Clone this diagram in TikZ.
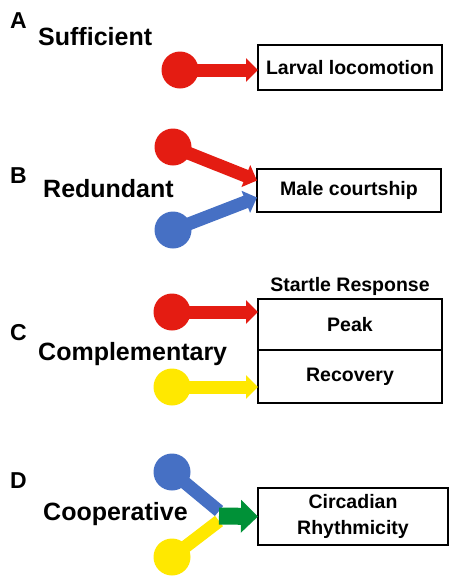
\documentclass[tikz,border=0pt]{standalone}
\usepackage{fontspec}
\setmainfont{Liberation Sans}
\usepackage{xcolor}
\usetikzlibrary{arrows.meta, positioning, calc}

\definecolor{gred}{RGB}{228,28,18}
\definecolor{gblue}{RGB}{70,112,196}
\definecolor{gyellow}{RGB}{255,232,0}
\definecolor{ggreen}{RGB}{0,145,55}

\begin{document}
\begin{tikzpicture}[x=1pt, y=-1pt,
    gene/.style={circle, fill=#1, minimum size=37pt, inner sep=0pt},
    link/.style={draw=#1, line width=13pt, -{Triangle[length=12pt, width=23pt]}},
    outbox/.style={rectangle, draw, line width=2pt, outer sep=0pt, minimum width=184pt, align=center, font=\fontsize{19.5}{26}\selectfont\bfseries},
    kind/.style={anchor=base west, inner sep=0pt, font=\fontsize{25}{30}\selectfont\bfseries},
    panel/.style={anchor=base west, inner sep=0pt, font=\fontsize{23}{27}\selectfont\bfseries}]
    \useasboundingbox (0,0) rectangle (450,576);

    % A: sufficient
    \node (lblA) [panel] at (10,28) {A};
    \node (suff) [kind] at (38,45) {Sufficient};
    \node (larva) [outbox, minimum height=45pt] at (350,67.5) {Larval locomotion};
    \node (sufA) [gene=gred] at (180,70) {};
    \draw [link=gred] (sufA.center) -- (sufA.center -| larva.west);

    % B: redundant
    \node (lblB) [panel] at (10,183) {B};
    \node (redu) [kind] at (43,197) {Redundant};
    \node (court) [outbox, minimum height=43pt] at (349,190.5) {Male courtship};
    \node (redB) [gene=gred] at (173,147) {};
    \node (bluB) [gene=gblue] at (173,230) {};
    \draw [link=gred] (redB.center) -- ([yshift=10pt]court.west);
    \draw [link=gblue] (bluB.center) -- ([yshift=-7pt]court.west);

    % C: complementary
    \node (lblC) [panel] at (10,340) {C};
    \node (comp) [kind] at (38,360) {Complementary};
    \node (peak) [outbox, minimum height=51pt] at (350,324.5) {Peak};
    \node (recov) [outbox, minimum height=53pt, below=0pt of peak] {Recovery};
    \node (startle) [above=0pt of peak, font=\fontsize{19.5}{23}\selectfont\bfseries] {Startle Response};
    \node (redC) [gene=gred] at (172,312) {};
    \node (yelC) [gene=gyellow] at (172,387) {};
    \draw [link=gred] (redC.center) -- (redC.center -| peak.west);
    \draw [link=gyellow] (yelC.center) -- (yelC.center -| recov.west);

    % D: cooperative
    \node (lblD) [panel] at (10,488) {D};
    \node (coop) [kind] at (43,520) {Cooperative};
    \node (circ) [outbox, minimum width=190pt, minimum height=57pt] at (353,516.5) {Circadian\\Rhythmicity};
    \node (bluD) [gene=gblue] at (172,472) {};
    \node (yelD) [gene=gyellow] at (172,557) {};
    \coordinate (jD) at (219,516);
    \draw [gblue, line width=13pt] (bluD.center) -- ([yshift=5pt]jD);
    \draw [gyellow, line width=13pt] (yelD.center) -- ([yshift=-5pt]jD);
    \draw [draw=ggreen, line width=17pt, -{Triangle[length=17pt, width=32pt]}] (jD) -- (circ.west);
\end{tikzpicture}
\end{document}
